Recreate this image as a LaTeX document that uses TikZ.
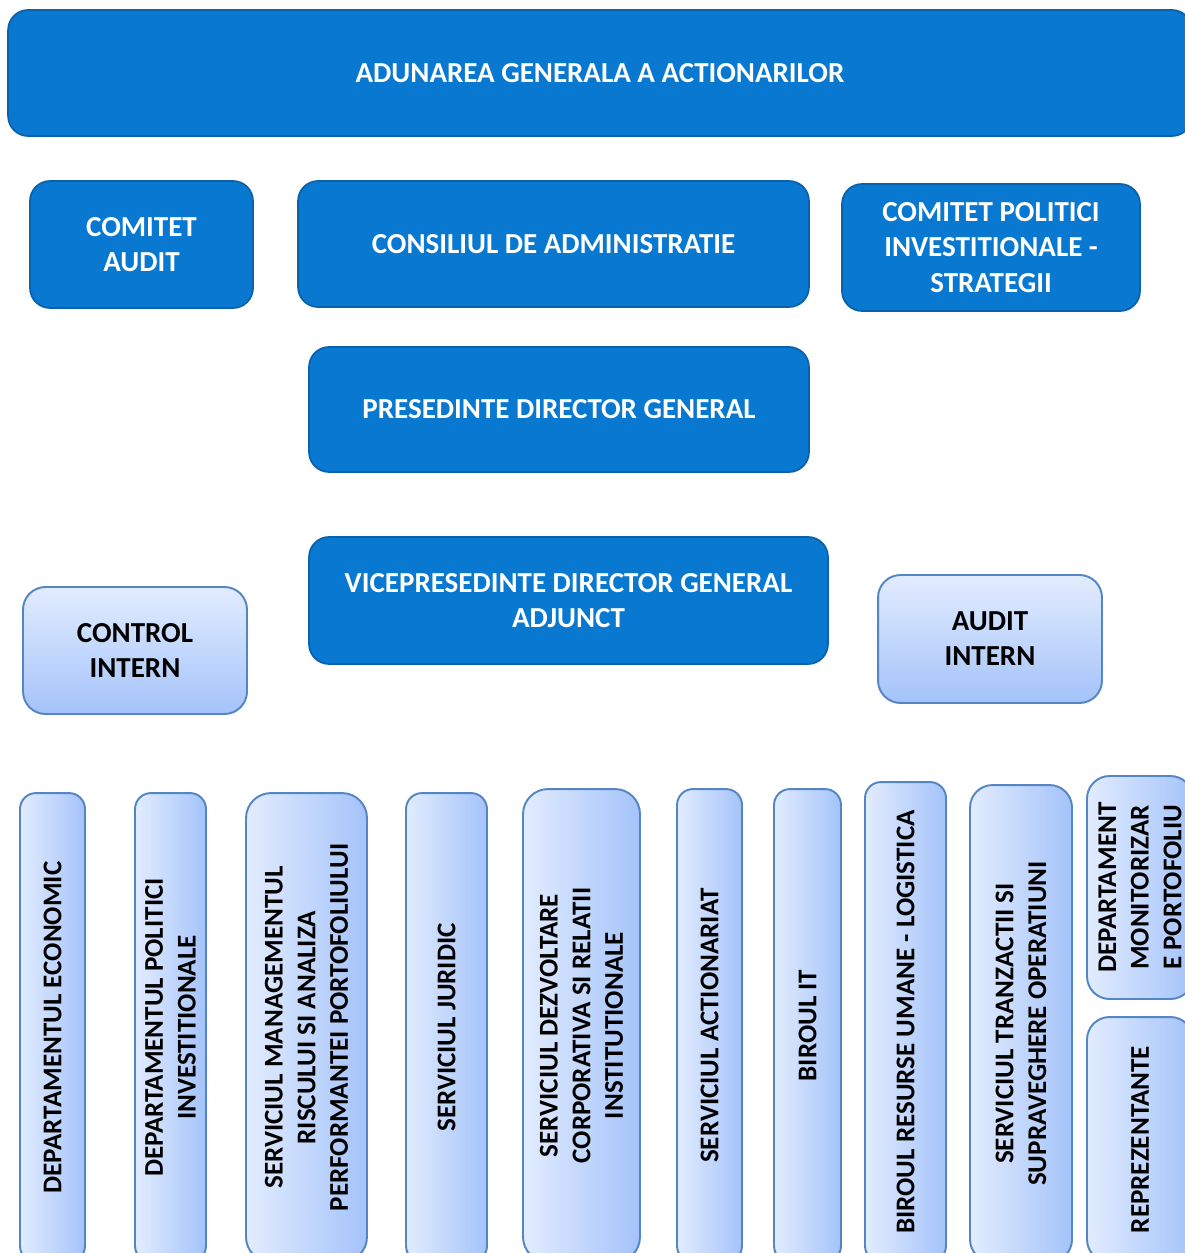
\documentclass[tikz,border=0pt]{standalone}
\usepackage{fontspec}
\setmainfont{Carlito}
\usetikzlibrary{positioning}
\definecolor{boxblue}{RGB}{9,120,208}
\definecolor{boxedge}{RGB}{10,98,172}
\definecolor{lighttop}{RGB}{226,236,254}
\definecolor{lightbot}{RGB}{164,195,250}
\definecolor{lightedge}{RGB}{84,133,196}
\begin{document}
\begin{tikzpicture}[%
x=0.02cm,y=-0.02cm,%
boxtext/.style={font=\bfseries\fontsize{16.5}{20}\selectfont,align=center,inner sep=0pt},%
darkbox/.style={boxtext,draw=boxedge,fill=boxblue,line width=1pt,rounded corners=0.4cm,text=white},%
lightbox/.style={boxtext,draw=lightedge,top color=lighttop,bottom color=lightbot,line width=1.1pt,rounded corners=0.45cm,text=black},%
vbox/.style={boxtext,font=\bfseries\fontsize{15.4}{18.6}\selectfont,draw=lightedge,left color=lighttop,right color=lightbot,line width=1.1pt,rotate=90,rounded corners=0.32cm},%
  ]
    \useasboundingbox (0,0) rectangle (1185,1253);
    \clip (0,0) rectangle (1185,1253);

    % top levels
    \node[darkbox,minimum width=23.68cm,minimum height=2.52cm] (aga) at (600,73) {ADUNAREA GENERALA A ACTIONARILOR};

    \node[darkbox,minimum width=4.46cm,minimum height=2.54cm] (caudit) at (141.5,244.5) {COMITET\\AUDIT};
    \node[darkbox,minimum width=10.22cm,minimum height=2.52cm] (ca) at (553.5,244) {CONSILIUL DE ADMINISTRATIE};
    \node[darkbox,minimum width=5.96cm,minimum height=2.54cm] (cpis) at (991,247.5) {COMITET POLITICI\\INVESTITIONALE -\\STRATEGII};

    \node[darkbox,minimum width=10cm,minimum height=2.5cm] (pdg) at (559,409.5) {PRESEDINTE DIRECTOR GENERAL};

    \node[darkbox,minimum width=10.38cm,minimum height=2.54cm] (vpdg) at (568.5,600.5) {VICEPRESEDINTE DIRECTOR GENERAL\\ADJUNCT};
    \node[lightbox,minimum width=4.48cm,minimum height=2.54cm] (ci) at (135,650.5) {CONTROL\\INTERN};
    \node[lightbox,minimum width=4.48cm,minimum height=2.56cm] (ai) at (990,639) {AUDIT\\INTERN};

    % departamente si servicii
    \node[vbox,minimum width=9.38cm,minimum height=1.30cm] (econ) at (52.5,1027.5) {DEPARTAMENTUL ECONOMIC};
    \node[vbox,minimum width=9.38cm,minimum height=1.42cm] (dpi) at (170.5,1027.5) {DEPARTAMENTUL POLITICI\\INVESTITIONALE};
    \node[vbox,minimum width=9.38cm,minimum height=2.42cm,rounded corners=0.5cm] (smr) at (306.5,1027.5) {SERVICIUL MANAGEMENTUL\\RISCULUI SI ANALIZA\\PERFORMANTEI PORTOFOLIULUI};
    \node[vbox,minimum width=9.38cm,minimum height=1.62cm] (jur) at (446.5,1027.5) {SERVICIUL JURIDIC};
    \node[vbox,minimum width=9.46cm,minimum height=2.34cm,rounded corners=0.5cm] (sdc) at (581.5,1025.5) {SERVICIUL DEZVOLTARE\\CORPORATIVA SI RELATII\\INSTITUTIONALE};
    \node[vbox,minimum width=9.46cm,minimum height=1.30cm] (sact) at (709.5,1025.5) {SERVICIUL ACTIONARIAT};
    \node[vbox,minimum width=9.46cm,minimum height=1.34cm] (bit) at (807.5,1025.5) {BIROUL IT};
    \node[vbox,minimum width=9.60cm,minimum height=1.62cm] (brul) at (905.5,1022) {BIROUL RESURSE UMANE - LOGISTICA};
    \node[vbox,minimum width=9.54cm,minimum height=2.04cm,rounded corners=0.45cm] (sts) at (1021,1023.5) {SERVICIUL TRANZACTII SI\\SUPRAVEGHERE OPERATIUNI};
    \node[vbox,minimum width=4.46cm,minimum height=2.12cm,rounded corners=0.45cm] (dmp) at (1140,887.5) {DEPARTAMENT\\MONITORIZAR\\E PORTOFOLIU};
    \node[vbox,minimum width=4.90cm,minimum height=2.12cm,rounded corners=0.45cm] (rep) at (1140,1139.5) {REPREZENTANTE};
\end{tikzpicture}
\end{document}
